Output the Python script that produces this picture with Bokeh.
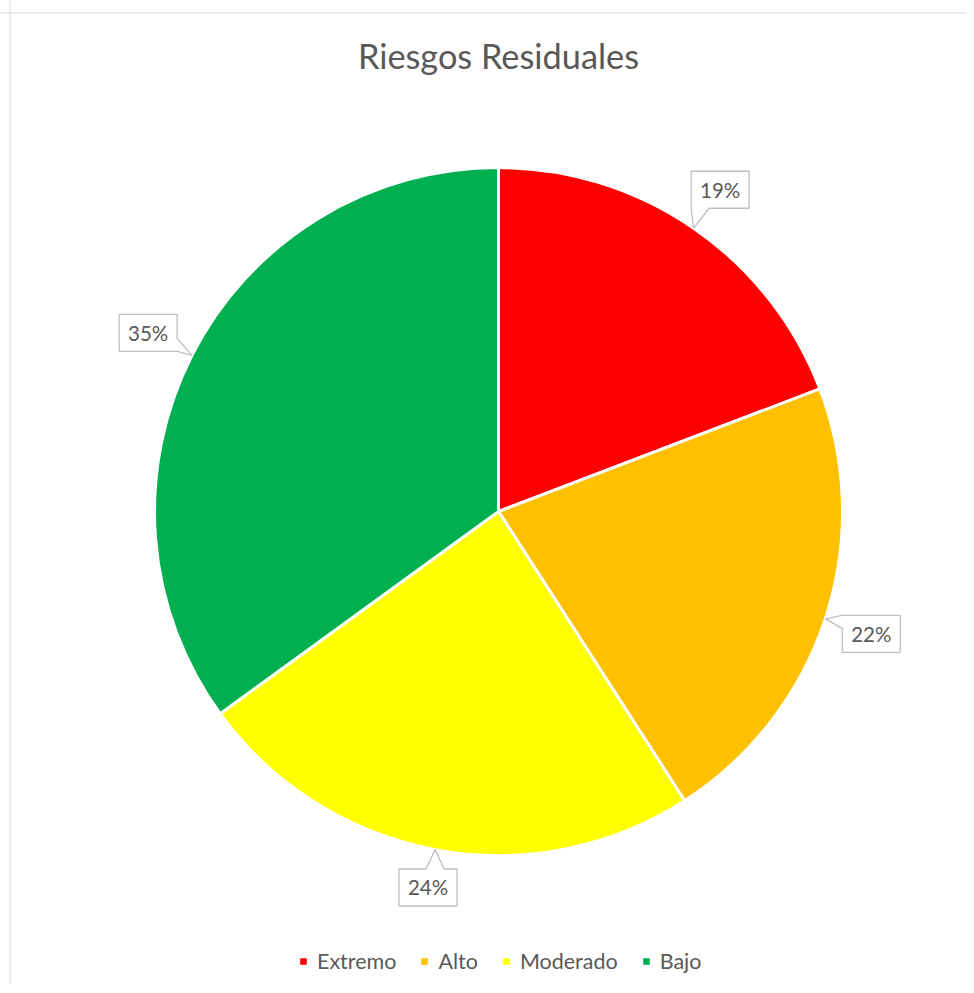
import math
import numpy as np
from bokeh.plotting import figure
from bokeh.models import ColumnDataSource, Range1d, Label, Span
from bokeh.embed import file_html
from bokeh.resources import INLINE
from bokeh.core.properties import value

# ---- data ----
categories = ["Extremo", "Alto", "Moderado", "Bajo"]
shares = [19.2, 21.7, 24.1, 35.0]
colors = ["#FF0000", "#FFC000", "#FFFF00", "#00B050"]
title_text = "Riesgos Residuales"

# ---- layout constants (pixels) ----
W, H = 966, 985
CX, CY = 498, 511          # pie centre on the canvas
R = 344                    # pie radius
GAP = 15                   # gap between pie edge and label box
BW, BH = 29, 18.5          # half sizes of label boxes
FONT = "Lato"
TXT = "#595959"

vals = np.array(shares, dtype=float)
frac = vals / vals.sum()
cum = np.cumsum(frac)
prev = cum - frac
start = math.pi / 2 - 2 * math.pi * prev
end = math.pi / 2 - 2 * math.pi * cum
mid = math.pi / 2 - 2 * math.pi * (prev + frac / 2)

src = ColumnDataSource(dict(cat=categories, start=start, end=end, color=colors))

p = figure(width=W, height=H, output_backend="svg", toolbar_location=None,
           x_range=Range1d(-CX, W - CX), y_range=Range1d(CY - H, CY),
           min_border=0, min_border_left=0, min_border_right=0,
           min_border_top=0, min_border_bottom=0)
p.axis.visible = False
p.grid.visible = False
p.outline_line_color = None
p.background_fill_color = "white"
p.border_fill_color = "white"

p.wedge(x=0, y=0, radius=R, start_angle="start", end_angle="end",
        direction="clock", fill_color="color", line_color="white",
        line_width=3, source=src, legend_field="cat")

# ---- callout labels ----
xs, ys, lx, ly, ltxt = [], [], [], [], []
for m, f in zip(mid, frac):
    ux, uy = math.cos(m), math.sin(m)
    tx, ty = R * ux, R * uy
    d = R + GAP + abs(ux) * BW + abs(uy) * BH
    cx, cy = d * ux, d * uy
    dx, dy = tx - cx, ty - cy
    L, T, Rr, B = cx - BW, cy + BH, cx + BW, cy - BH
    if abs(dx) / BW > abs(dy) / BH:
        b = min(max(ty, B + 6.5), T - 6.5)
        b1, b2 = b + 6.5, b - 6.5
        if dx > 0:   # right side
            px = [L, Rr, Rr, tx, Rr, Rr, L]
            py = [T, T, b1, ty, b2, B, B]
        else:        # left side
            px = [L, Rr, Rr, L, L, tx, L]
            py = [T, T, B, B, b2, ty, b1]
    else:
        b = min(max(tx, L + 9), Rr - 9)
        b1, b2 = b - 9, b + 9
        if dy < 0:   # bottom side
            px = [L, Rr, Rr, b2, tx, b1, L]
            py = [T, T, B, B, ty, B, B]
        else:        # top side
            px = [L, b1, tx, b2, Rr, Rr, L]
            py = [T, T, ty, T, T, B, B]
    xs.append(px)
    ys.append(py)
    lx.append(cx)
    ly.append(cy)
    ltxt.append(f"{round(f * 100):.0f}%")

p.patches(xs, ys, fill_color="white", line_color="#BFBFBF", line_width=1.3)
p.text(x=lx, y=ly, text=ltxt, text_align="center", text_baseline="middle",
       text_font=value(FONT), text_font_size="20.5px", text_color=TXT)

# ---- title ----
p.add_layout(Label(x=0, y=456, text=title_text, text_align="center",
                   text_baseline="alphabetic", text_font=FONT,
                   text_font_size="34.3px", text_color=TXT))

# ---- chart area border ----
p.add_layout(Span(location=-CX + 9.5, dimension="height",
                  line_color="#D9D9D9", line_width=1))
p.add_layout(Span(location=CY - 12.5, dimension="width",
                  line_color="#D9D9D9", line_width=1))

# ---- legend ----
lg = p.legend[0]
lg.orientation = "horizontal"
lg.location = (297, 11)
lg.padding = 0
lg.margin = 0
lg.spacing = 22
lg.label_standoff = 8
lg.glyph_width = 12
lg.glyph_height = 12
lg.label_text_font = FONT
lg.label_text_font_size = "21.5px"
lg.label_text_color = TXT
lg.border_line_color = None
lg.background_fill_alpha = 0

open("out.html", "w").write(file_html(p, INLINE))
